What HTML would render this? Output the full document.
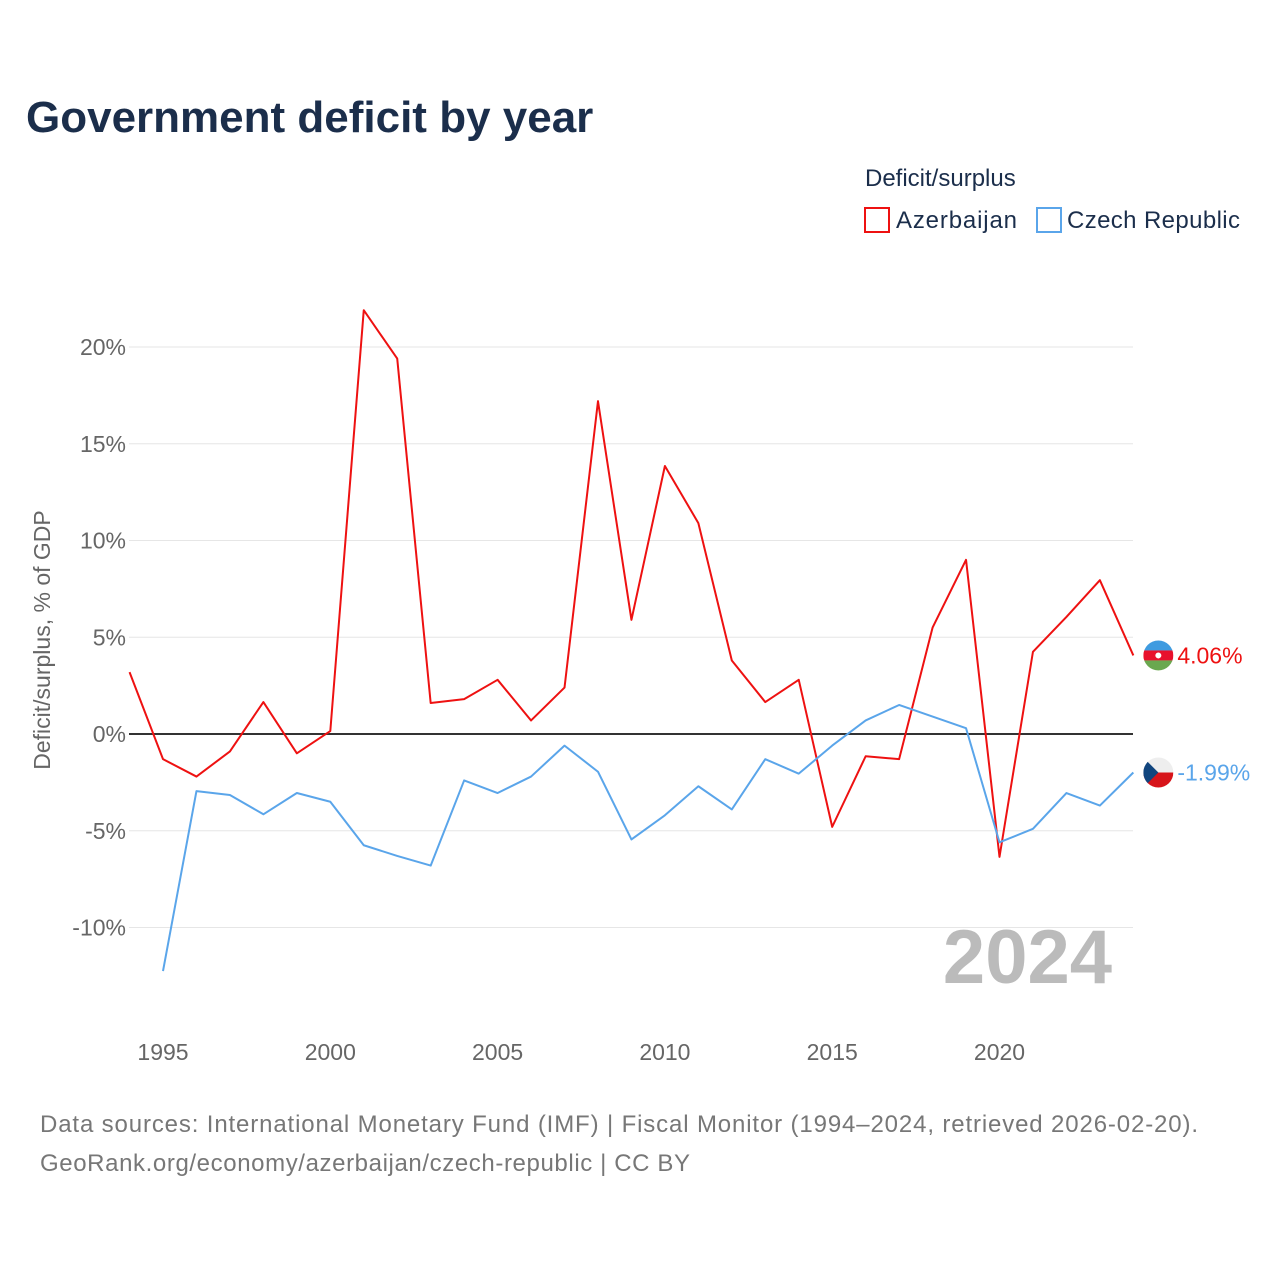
<!DOCTYPE html>
<html><head><meta charset="utf-8">
<style>
body{margin:0;background:#fff;font-family:"Liberation Sans",sans-serif;}
svg text{font-family:"Liberation Sans",sans-serif;}
</style></head>
<body>
<svg id="chart" width="1280" height="1280" viewBox="0 0 1280 1280" xmlns="http://www.w3.org/2000/svg">
<defs>
<clipPath id="cAz"><circle cx="0" cy="0" r="15"/></clipPath>
</defs>
<text x="26" y="132" font-size="44" font-weight="bold" fill="#1b2e4b">Government deficit by year</text>
<text x="865" y="186" font-size="24" fill="#1b2e4b">Deficit/surplus</text>
<g><rect x="865" y="208" width="24" height="24" fill="none" stroke="#ee1111" stroke-width="2"/><text x="896" y="228" font-size="24" fill="#1b2e4b" textLength="121">Azerbaijan</text></g>
<g><rect x="1037" y="208" width="24" height="24" fill="none" stroke="#5aa5ea" stroke-width="2"/><text x="1067" y="228" font-size="24" fill="#1b2e4b" textLength="173">Czech Republic</text></g>
<g id="grid"></g>
<g id="xticks"></g>
<text transform="translate(50,640) rotate(-90)" text-anchor="middle" font-size="23" fill="#666">Deficit/surplus, % of GDP</text>
<text x="1112" y="983" text-anchor="end" font-size="76" font-weight="bold" fill="#bbb">2024</text>
<g id="series"></g>
<text x="40" y="1132" font-size="24" fill="#777" textLength="1158">Data sources: International Monetary Fund (IMF) | Fiscal Monitor (1994–2024, retrieved 2026-02-20).</text>
<text x="40" y="1171" font-size="24" fill="#777" textLength="650">GeoRank.org/economy/azerbaijan/czech-republic | CC BY</text>
</svg>
<script>
const yTicks=[-10,-5,0,5,10,15,20];
const xTicks=[1995,2000,2005,2010,2015,2020];
const azYears=[1994,1995,1996,1997,1998,1999,2000,2001,2002,2003,2004,2005,2006,2007,2008,2009,2010,2011,2012,2013,2014,2015,2016,2017,2018,2019,2020,2021,2022,2023,2024];
const azValues=[3.2,-1.3,-2.2,-0.9,1.65,-1.0,0.15,21.9,19.4,1.6,1.8,2.8,0.7,2.4,17.2,5.9,13.85,10.9,3.8,1.65,2.8,-4.8,-1.15,-1.3,5.5,9.0,-6.35,4.25,6.05,7.95,4.06];
const czYears=[1995,1996,1997,1998,1999,2000,2001,2002,2003,2004,2005,2006,2007,2008,2009,2010,2011,2012,2013,2014,2015,2016,2017,2018,2019,2020,2021,2022,2023,2024];
const czValues=[-12.25,-2.95,-3.15,-4.15,-3.05,-3.5,-5.75,-6.3,-6.8,-2.4,-3.05,-2.2,-0.6,-1.95,-5.45,-4.2,-2.7,-3.9,-1.3,-2.05,-0.6,0.7,1.5,0.9,0.3,-5.6,-4.9,-3.05,-3.7,-1.99];
const NS="http://www.w3.org/2000/svg";
const X=y=>163+(y-1995)*33.46;
const Y=v=>734-v*19.35;
function mk(tag,attrs,parent){const e=document.createElementNS(NS,tag);for(const k in attrs)e.setAttribute(k,attrs[k]);parent.appendChild(e);return e;}
const grid=document.getElementById('grid');
yTicks.forEach(t=>{
  const l=mk('line',{x1:129,x2:1133,y1:Y(t),y2:Y(t),stroke:t===0?'#333':'#e6e6e6','stroke-width':t===0?2:1},grid);
  
  
  const tx=mk('text',{x:126,y:Y(t)+8,'text-anchor':'end','font-size':23,fill:'#666'},grid);
  tx.textContent=t+'%';
  
  
});
const xt=document.getElementById('xticks');
xTicks.forEach(t=>{
  const tx=mk('text',{x:X(t),y:1060,'text-anchor':'middle','font-size':23,fill:'#666'},xt);
  tx.textContent=t;
  
  
});
const s=document.getElementById('series');
function flag(g,kind){
  if(kind==='az'){
    mk('rect',{x:-15,y:-15,width:30,height:10,fill:'#3f9be0'},g);
    mk('rect',{x:-15,y:-5,width:30,height:10,fill:'#e8112d'},g);
    mk('rect',{x:-15,y:5,width:30,height:10,fill:'#6aa84f'},g);
    mk('circle',{cx:0,cy:0,r:3,fill:'#fff'},g);
  } else {
    mk('rect',{x:-15,y:-15,width:30,height:15,fill:'#eeeeee'},g);
    mk('rect',{x:-15,y:0,width:30,height:15,fill:'#d7141a'},g);
    mk('polygon',{points:'-15,-15 0,0 -15,15',fill:'#11457e'},g);
  }
}
function line(years,vals,color,name,kind){
  const p=mk('polyline',{points:years.map((y,i)=>X(y)+','+Y(vals[i])).join(' '),fill:'none',stroke:color,'stroke-width':2,'stroke-linejoin':'round'},s);
  
  
  const ly=years[years.length-1],lv=vals[vals.length-1];
  const g=mk('g',{transform:'translate('+(X(ly)+25)+','+Y(lv)+')','clip-path':'url(#cAz)'},s);
  
  
  flag(g,kind);
  const tx=mk('text',{x:X(ly)+44,y:Y(lv)+8,'font-size':23,fill:color},s);
  tx.textContent=lv.toFixed(2)+'%';
  
  
}
line(azYears,azValues,'#ee1111','azerbaijan-line','az');
line(czYears,czValues,'#5aa5ea','czech-republic-line','cz');
</script>
</body></html>
